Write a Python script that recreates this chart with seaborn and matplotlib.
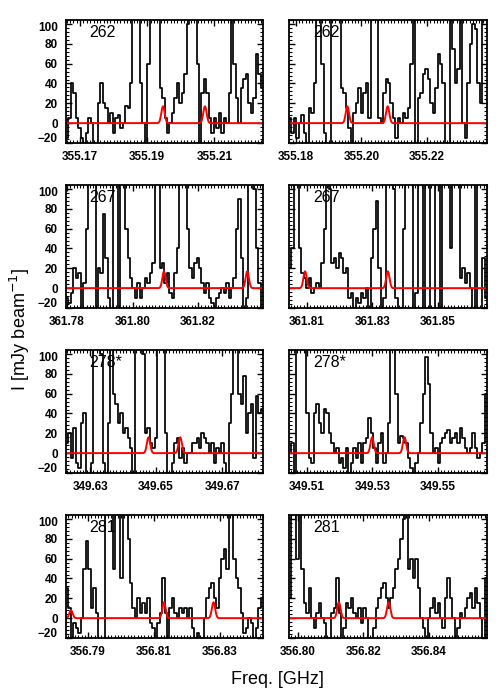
import numpy as np
import pandas as pd
import matplotlib
matplotlib.use("Agg")
import matplotlib.pyplot as plt
import matplotlib.transforms as mtransforms
from matplotlib.ticker import FixedLocator, MultipleLocator, FormatStrFormatter
import seaborn as sns

sns.set_style("white")
plt.rcParams['font.family'] = ['Liberation Sans', 'DejaVu Sans']
plt.rcParams['text.color'] = 'black'
plt.rcParams['axes.labelcolor'] = 'black'
plt.rcParams['xtick.color'] = 'black'
plt.rcParams['ytick.color'] = 'black'

# ---------------- DATA ----------------
panel_labels = ["262", "262", "267", "267", "278*", "278*", "281", "281"]

# frequency window of each panel (GHz)
freq_lo = [355.1658, 355.1779, 361.7797, 361.8045, 349.6227, 349.5045, 356.7833, 356.7973]
freq_hi = [355.2245, 355.2383, 361.8398, 361.8650, 349.6824, 349.5650, 356.8430, 356.8577]

xtick_labels = [
    [355.17, 355.19, 355.21], [355.18, 355.20, 355.22],
    [361.78, 361.80, 361.82], [361.81, 361.83, 361.85],
    [349.63, 349.65, 349.67], [349.51, 349.53, 349.55],
    [356.79, 356.81, 356.83], [356.80, 356.82, 356.84],
]
ytick_labels = [-20, 0, 20, 40, 60, 80, 100]

# observed spectra (mJy/beam), one value per channel
spec_262a = [-15, 5, 40, 30, 5, -5, -15, -20, -10, 5, 0, -20, -25, 20, 40, 20, 15, 0, 10, -10,
             5, 8, -5, 0, 17, 15, 40, 200, 200, 150, 40, 0, -25, 60, 200, 200, 200, 120, 35, 25,
             5, -10, 0, 10, 25, 40, 20, 30, 50, 100, 200, 200, 200, 60, -20, 30, 45, 30, 5, -10,
             5, -5, 10, -10, 5, 0, 30, 200, 60, 25, 0, 35, 45, 50, 20, 10, 25, 70, 50, 35]
spec_262b = [5, -10, 5, -15, 0, 8, -10, -20, 15, 10, 40, 200, 200, 60, -10, -25, -25, 200, 200, 200,
             120, 35, 30, 15, -5, -20, 10, 20, 35, 10, 30, 40, 5, 200, 200, 120, 5, 0, 30, 45,
             40, 20, 5, -15, 5, 0, 10, 5, 15, 60, 200, -20, 25, 30, 50, 55, 45, 20, 10, 35,
             70, 60, 40, -20, -25, 200, 75, 40, 55, 200, 0, -15, 40, 80, 100, 95, 40, 20, 200, 150]
spec_267a = [-10, -15, -5, 20, 10, 15, -20, 5, 60, 200, 200, 120, -20, 20, 15, 75, 30, -10, -25, 200,
             200, -20, 200, 200, 60, 30, 10, 0, -10, 5, -10, 0, 10, 5, 15, 25, 200, 200, 20, 25,
             5, 15, -5, -10, 15, 40, 200, 200, 200, 60, 20, 10, 25, 30, 20, 5, -5, 5, -10, -15,
             -20, -10, -5, 0, -5, 5, -10, 0, 10, 60, 90, 30, -20, -10, 200, 200, 100, 40, 5, -20]
spec_267b = [20, 40, 200, 200, 40, 15, 10, 0, 10, -5, 0, 5, 0, 25, 60, 200, 100, 25, 30, 20,
             35, 30, 15, 20, -10, -5, -20, -10, -15, -5, -10, 0, -20, 30, 60, 88, 20, -25, -10, 200,
             200, 200, 100, -10, -25, -20, 60, 200, 200, 150, -20, -5, 200, 200, -20, 200, 200, -25, -20, 200,
             200, -25, 200, 200, 200, 40, 200, 200, 200, 10, 20, 5, 15, 0, -20, 200, -25, -20, 30, -10]
spec_278a = [10, 20, -5, 25, -10, -15, 30, 40, -20, -25, -10, 200, 200, 200, 100, -10, -25, 30, 200, 60,
             50, 30, 40, 20, 25, 15, 5, -25, 200, 200, 200, 100, 20, 25, 10, 5, 15, 200, 200, 120,
             20, -20, -25, -10, 10, 15, -5, 5, -10, 0, 0, 10, 10, 15, 5, 20, 15, 10, 0, 10,
             -10, 5, 0, 10, -10, -20, 30, 60, 200, 200, 60, 50, 78, 20, 40, 50, -5, 58, 40, 45]
spec_278b = [0, 10, -25, 200, 200, 200, 150, 40, -5, -10, 40, 50, 30, 20, 45, 40, 20, 10, 0, 5,
             -10, -5, -15, 5, -20, -10, 5, -5, 10, -10, 10, 15, 35, 20, 5, -10, 10, 20, -10, 0,
             30, 200, 200, 60, 10, 17, 15, 10, -5, -15, -20, -10, 0, 30, 60, 97, 70, 20, 0, 5,
             -10, 10, 15, 20, 23, 10, 15, 20, 10, 25, 15, 5, 0, 5, 20, 5, -5, 0, 10, 60]
spec_281a = [30, 10, -20, -5, -10, -15, 0, 50, 78, 50, 10, 30, 5, -25, -25, -25, 200, 200, 200, 50,
             200, 200, 40, 200, 200, 80, 35, 10, 0, 20, 5, 15, 5, 20, -5, -10, -20, -5, 5, 40,
             5, -20, 10, 20, 5, 0, 10, 5, 10, 0, 10, -10, -20, -15, -25, -20, 0, 20, 30, 35,
             20, 10, 40, 60, 70, 50, 200, 200, 60, 40, 30, 5, -15, -10, 0, -5, -20, -10, 10, 20]
spec_281b = [20, 200, 200, 60, 200, 50, 15, 5, 30, 0, -10, 5, 15, 0, -5, -20, -25, 5, 10, 40,
             5, -20, -10, 15, 10, 20, 5, 0, 10, -5, 10, 0, -20, -25, -10, 10, 20, 30, 35, 20,
             10, 20, 30, 50, 60, 80, 100, 200, 50, 60, 40, 60, 30, 0, -10, -25, 0, 10, 20, 5,
             15, 0, -10, 20, 40, 20, 0, -20, -10, 5, 0, 10, 20, 25, 10, 30, 15, 0, -20, 40]

spectra = [spec_262a, spec_262b, spec_267a, spec_267b, spec_278a, spec_278b, spec_281a, spec_281b]

# fitted line components (red model): centres (GHz), peaks (mJy/beam)
fit_centers = [
    [355.1947, 355.2072], [355.1957, 355.2080],
    [361.8096, 361.8350], [361.8094, 361.8347],
    [349.6477, 349.6573], [349.5299, 349.5398],
    [356.7848, 356.8130, 356.8280], [356.7848, 356.8125, 356.8277],
]
fit_peaks = [
    [17, 17], [17, 17],
    [17, 17], [17, 17],
    [16, 16], [16, 16],
    [8, 16, 16], [8, 16, 16],
]
fit_sigma = 0.0005

# ---------------- FIGURE ----------------
fig = plt.figure(figsize=(5, 7), dpi=100)

col_x = [66 / 500, 289 / 500]
col_w = [197 / 500, 198 / 500]
row_top = [20, 185, 350, 515]
row_h = 123

for k in range(8):
    r, c = divmod(k, 2)
    bottom = 1 - (row_top[r] + row_h) / 700
    ax = fig.add_axes([col_x[c], bottom, col_w[c], row_h / 700])

    lo, hi = freq_lo[k], freq_hi[k]
    vals = np.array(spectra[k], dtype=float)
    nch = len(vals)
    step = (hi - lo) / nch
    freqs = lo + step * (np.arange(nch) + 0.5)
    f_ext = np.concatenate([[lo], freqs, [hi]])
    v_ext = np.concatenate([[vals[0]], vals, [vals[-1]]])
    df = pd.DataFrame({"freq": f_ext, "I": v_ext})
    sns.lineplot(data=df, x="freq", y="I", ax=ax, color="black", lw=1.25,
                 drawstyle="steps-mid", estimator=None, sort=False)

    fgrid = np.linspace(lo, hi, 800)
    model = np.zeros_like(fgrid)
    for cen, pk in zip(fit_centers[k], fit_peaks[k]):
        model += pk * np.exp(-0.5 * ((fgrid - cen) / fit_sigma) ** 2)
    dm = pd.DataFrame({"freq": fgrid, "I": model})
    sns.lineplot(data=dm, x="freq", y="I", ax=ax, color="#ff0000", lw=1.4,
                 estimator=None, sort=False)

    ax.set_xlim(lo, hi)
    ax.set_ylim(-20, 104)
    ax.set_xlabel("")
    ax.set_ylabel("")

    ax.xaxis.set_major_locator(FixedLocator(xtick_labels[k]))
    ax.xaxis.set_major_formatter(FormatStrFormatter("%.2f"))
    ax.xaxis.set_minor_locator(MultipleLocator(0.001))
    ax.yaxis.set_major_locator(FixedLocator(ytick_labels))
    ax.yaxis.set_minor_locator(MultipleLocator(4))

    ax.tick_params(which="both", direction="in", top=True, right=True,
                   bottom=True, left=True, color="black")
    ax.tick_params(which="major", length=4.5, width=1.0, labelsize=8.5, pad=6,
                   labelcolor="black")
    ax.tick_params(which="minor", length=2, width=0.8)
    for lab in ax.get_xticklabels() + ax.get_yticklabels():
        lab.set_fontweight("bold")
    if c == 1:
        ax.tick_params(axis="y", labelleft=False)
    else:
        for lab, v in zip(ax.get_yticklabels(), ytick_labels):
            if v == -20:
                lab.set_transform(lab.get_transform() +
                                  mtransforms.ScaledTranslation(0, 4 / 72, fig.dpi_scale_trans))
            if v == 100:
                lab.set_transform(lab.get_transform() +
                                  mtransforms.ScaledTranslation(0, -2 / 72, fig.dpi_scale_trans))
    for s in ax.spines.values():
        s.set_linewidth(1.3)
        s.set_color("black")

    ax.text(0.12, 0.9, panel_labels[k], transform=ax.transAxes, fontsize=11.5,
            ha="left", va="center", color="black")

fig.text(0.04, 0.529, r"I [mJy beam$^{-1}$]", rotation=90, ha="center", va="center",
         fontsize=13, color="black")
fig.text(0.554, 0.029, "Freq. [GHz]", ha="center", va="center", fontsize=13,
         color="black")

fig.savefig("out.png", dpi=100)
